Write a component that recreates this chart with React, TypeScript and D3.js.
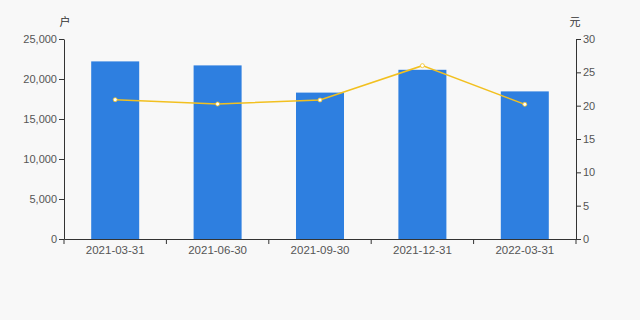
import React, { useEffect, useRef } from "react";
import * as d3 from "d3";

const categories = ["2021-03-31", "2021-06-30", "2021-09-30", "2021-12-31", "2022-03-31"];
const holders = [22200, 21700, 18300, 21150, 18450];
const price = [20.9, 20.25, 20.85, 26.0, 20.2];
const leftTicks = [0, 5000, 10000, 15000, 20000, 25000];
const rightTicks = [0, 5, 10, 15, 20, 25, 30];

const W = 640, H = 320;
const M = { left: 64, right: 576, top: 39, bottom: 239 };

export default function App() {
  const ref = useRef<SVGSVGElement>(null);
  useEffect(() => {
    const svg = d3.select(ref.current);
    svg.selectAll("*").remove();
    const font = "Arial, 'Liberation Sans', Helvetica, sans-serif";
    const cjk = "'Noto Sans CJK SC', sans-serif";
    svg.append("rect").attr("width", W).attr("height", H).attr("fill", "#f8f8f8");

    const x = d3.scaleBand<string>().domain(categories).range([M.left, M.right]);
    const yL = d3.scaleLinear().domain([0, 25000]).range([M.bottom, M.top]);
    const yR = d3.scaleLinear().domain([0, 30]).range([M.bottom, M.top]);
    const bw = 48;

    // bars
    svg.append("g").selectAll("rect").data(holders).join("rect")
      .attr("x", (_, i) => x(categories[i])! + x.bandwidth() / 2 - bw / 2)
      .attr("y", d => yL(d))
      .attr("width", bw)
      .attr("height", d => M.bottom - yL(d))
      .attr("fill", "#2e7fe0");

    const gL = svg.append("g").attr("transform", `translate(${M.left},0)`)
      .call(d3.axisLeft(yL).tickValues(leftTicks).tickSize(5).tickSizeOuter(0).tickFormat(d3.format(",") as any));
    const gR = svg.append("g").attr("transform", `translate(${M.right},0)`)
      .call(d3.axisRight(yR).tickValues(rightTicks).tickSize(5).tickSizeOuter(0));
    const gX = svg.append("g").attr("transform", `translate(0,${M.bottom})`)
      .call(d3.axisBottom(x).tickSize(0).tickSizeOuter(0));
    const bounds = categories.map(c => x(c)!).concat([M.right]);
    svg.append("g").selectAll("line").data(bounds).join("line")
      .attr("x1", d => d).attr("x2", d => d)
      .attr("y1", M.bottom).attr("y2", M.bottom + 5)
      .attr("stroke", "#333");

    [gL, gR, gX].forEach(g => {
      g.selectAll(".domain").attr("stroke", "#333");
      g.selectAll(".tick line").attr("stroke", "#333");
      g.selectAll("text").attr("fill", "#555").attr("font-size", 11).attr("font-family", font);
    });
    gL.selectAll("text").attr("x", -7);
    gR.selectAll("text").attr("x", 7);
    gX.selectAll("text").attr("y", 7).attr("font-size", 11.5);

    const cx = (i: number) => x(categories[i])! + x.bandwidth() / 2;
    const line = d3.line<number>().x((_, i) => cx(i)).y(d => yR(d));
    svg.append("path").datum(price).attr("d", line)
      .attr("fill", "none").attr("stroke", "#f2c020").attr("stroke-width", 1.5);
    svg.append("g").selectAll("circle").data(price).join("circle")
      .attr("cx", (_, i) => cx(i)).attr("cy", d => yR(d)).attr("r", 2)
      .attr("fill", "#fff").attr("stroke", "#f2c020").attr("stroke-width", 0.8);

    svg.append("text").attr("x", M.left + 1).attr("y", 26).attr("text-anchor", "middle")
      .attr("font-size", 11).attr("fill", "#333").attr("font-family", cjk).text("户");
    svg.append("text").attr("x", M.right - 1).attr("y", 26).attr("text-anchor", "middle")
      .attr("font-size", 11).attr("fill", "#333").attr("font-family", cjk).text("元");
  }, []);
  return (
    <div style={{ position: "fixed", left: 0, top: 0, width: W, height: H }}>
      <svg ref={ref} width={W} height={H} style={{ display: "block" }} />
    </div>
  );
}
